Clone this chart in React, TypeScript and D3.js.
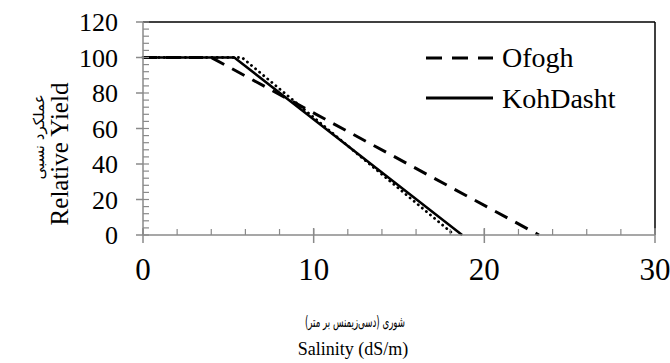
import React from "react";
import * as d3 from "d3";

const ofoghX = [0, 4.0, 23.2];
const ofoghY = [100, 100, 0];
const kohdashtX = [0, 5.35, 18.7];
const kohdashtY = [100, 100, 0];
const thirdX = [0, 5.8, 18.25];
const thirdY = [100, 100, 0];
const xMajorTicks = [0, 10, 20, 30];
const yMajorTicks = [0, 20, 40, 60, 80, 100, 120];
const legendNames = ["Ofogh", "KohDasht"];

const W = 670, H = 363;
const L = 143, R = 655, T = 22, B = 235;
const serif = "Liberation Serif, Tinos, Times New Roman, DejaVu Serif, serif";
const arabic = "DejaVu Sans, Noto Sans, sans-serif";
const gray = "#8a8a8a";

export default function App() {
  const x = d3.scaleLinear().domain([0, 30]).range([L, R]);
  const y = d3.scaleLinear().domain([0, 120]).range([B, T]);
  const line = d3.line<[number, number]>().x(d => x(d[0])).y(d => y(d[1]));
  const pts = (xs: number[], ys: number[]) => xs.map((v, i) => [v, ys[i]] as [number, number]);
  const xMinor = d3.range(0, 30.01, 2);
  const yMinor = d3.range(0, 120.01, 4);

  return (
    <svg width={W} height={H} style={{ position: "absolute", left: 0, top: 0, background: "#fff" }}>
      <line x1={L} x2={R} y1={T} y2={T} stroke="#000" strokeWidth={1.5} />
      <line x1={R} x2={R} y1={T} y2={B} stroke="#000" strokeWidth={1.5} />
      <path d={line(pts(thirdX, thirdY)) || ""} fill="none" stroke="#000" strokeWidth={2.8} strokeDasharray="0.1 5.2" strokeLinecap="round" />
      <path d={line(pts(ofoghX, ofoghY)) || ""} fill="none" stroke="#000" strokeWidth={3} strokeDasharray="14 9" />
      <path d={line(pts(kohdashtX, kohdashtY)) || ""} fill="none" stroke="#000" strokeWidth={2.5} />
      <line x1={L} x2={L} y1={T} y2={B} stroke={gray} strokeWidth={1.5} />
      {yMinor.map(v => (
        <line key={"ym" + v} x1={L} x2={L + 6} y1={y(v)} y2={y(v)} stroke={gray} strokeWidth={1.2} />
      ))}
      {yMajorTicks.map(v => (
        <line key={"yM" + v} x1={L - 7} x2={L} y1={y(v)} y2={y(v)} stroke={gray} strokeWidth={1.5} />
      ))}
      {yMajorTicks.map(v => (
        <text key={"yt" + v} x={118} y={y(v)} dy="0.35em" textAnchor="end" fontFamily={serif} fontSize={26} fill="#000">{v}</text>
      ))}
      <line x1={L} x2={R} y1={B} y2={B} stroke={gray} strokeWidth={1.5} />
      {xMinor.map(v => (
        <line key={"xm" + v} x1={x(v)} x2={x(v)} y1={B - 6} y2={B} stroke={gray} strokeWidth={1.2} />
      ))}
      {xMajorTicks.map(v => (
        <line key={"xM" + v} x1={x(v)} x2={x(v)} y1={B - 7} y2={B + 8} stroke={gray} strokeWidth={1.5} />
      ))}
      {xMajorTicks.map(v => (
        <text key={"xt" + v} x={x(v)} y={280} textAnchor="middle" fontFamily={serif} fontSize={31} fill="#000">{v}</text>
      ))}
      <line x1={426} x2={493} y1={58} y2={58} stroke="#000" strokeWidth={3} strokeDasharray="16 10" />
      <text x={502} y={67} fontFamily={serif} fontSize={28} fill="#000">{legendNames[0]}</text>
      <line x1={426} x2={493} y1={98} y2={98} stroke="#000" strokeWidth={3} />
      <text x={502} y={108} fontFamily={serif} fontSize={28} fill="#000">{legendNames[1]}</text>
      <text transform="translate(68,154) rotate(-90)" textAnchor="middle" fontFamily={serif} fontSize={25} fill="#000">Relative Yield</text>
      <text transform="translate(44,137) rotate(-90)" textAnchor="middle" fontFamily={arabic} fontSize={15} fill="#000">عملکرد نسبی</text>
      <text x={305} y={327} fontFamily={arabic} fontSize={15} fill="#000" textLength={100} lengthAdjust="spacingAndGlyphs">شوری (دسی‌زیمنس بر متر)</text>
      <text x={353} y={355} textAnchor="middle" fontFamily={serif} fontSize={18} fill="#000">Salinity (dS/m)</text>
    </svg>
  );
}
